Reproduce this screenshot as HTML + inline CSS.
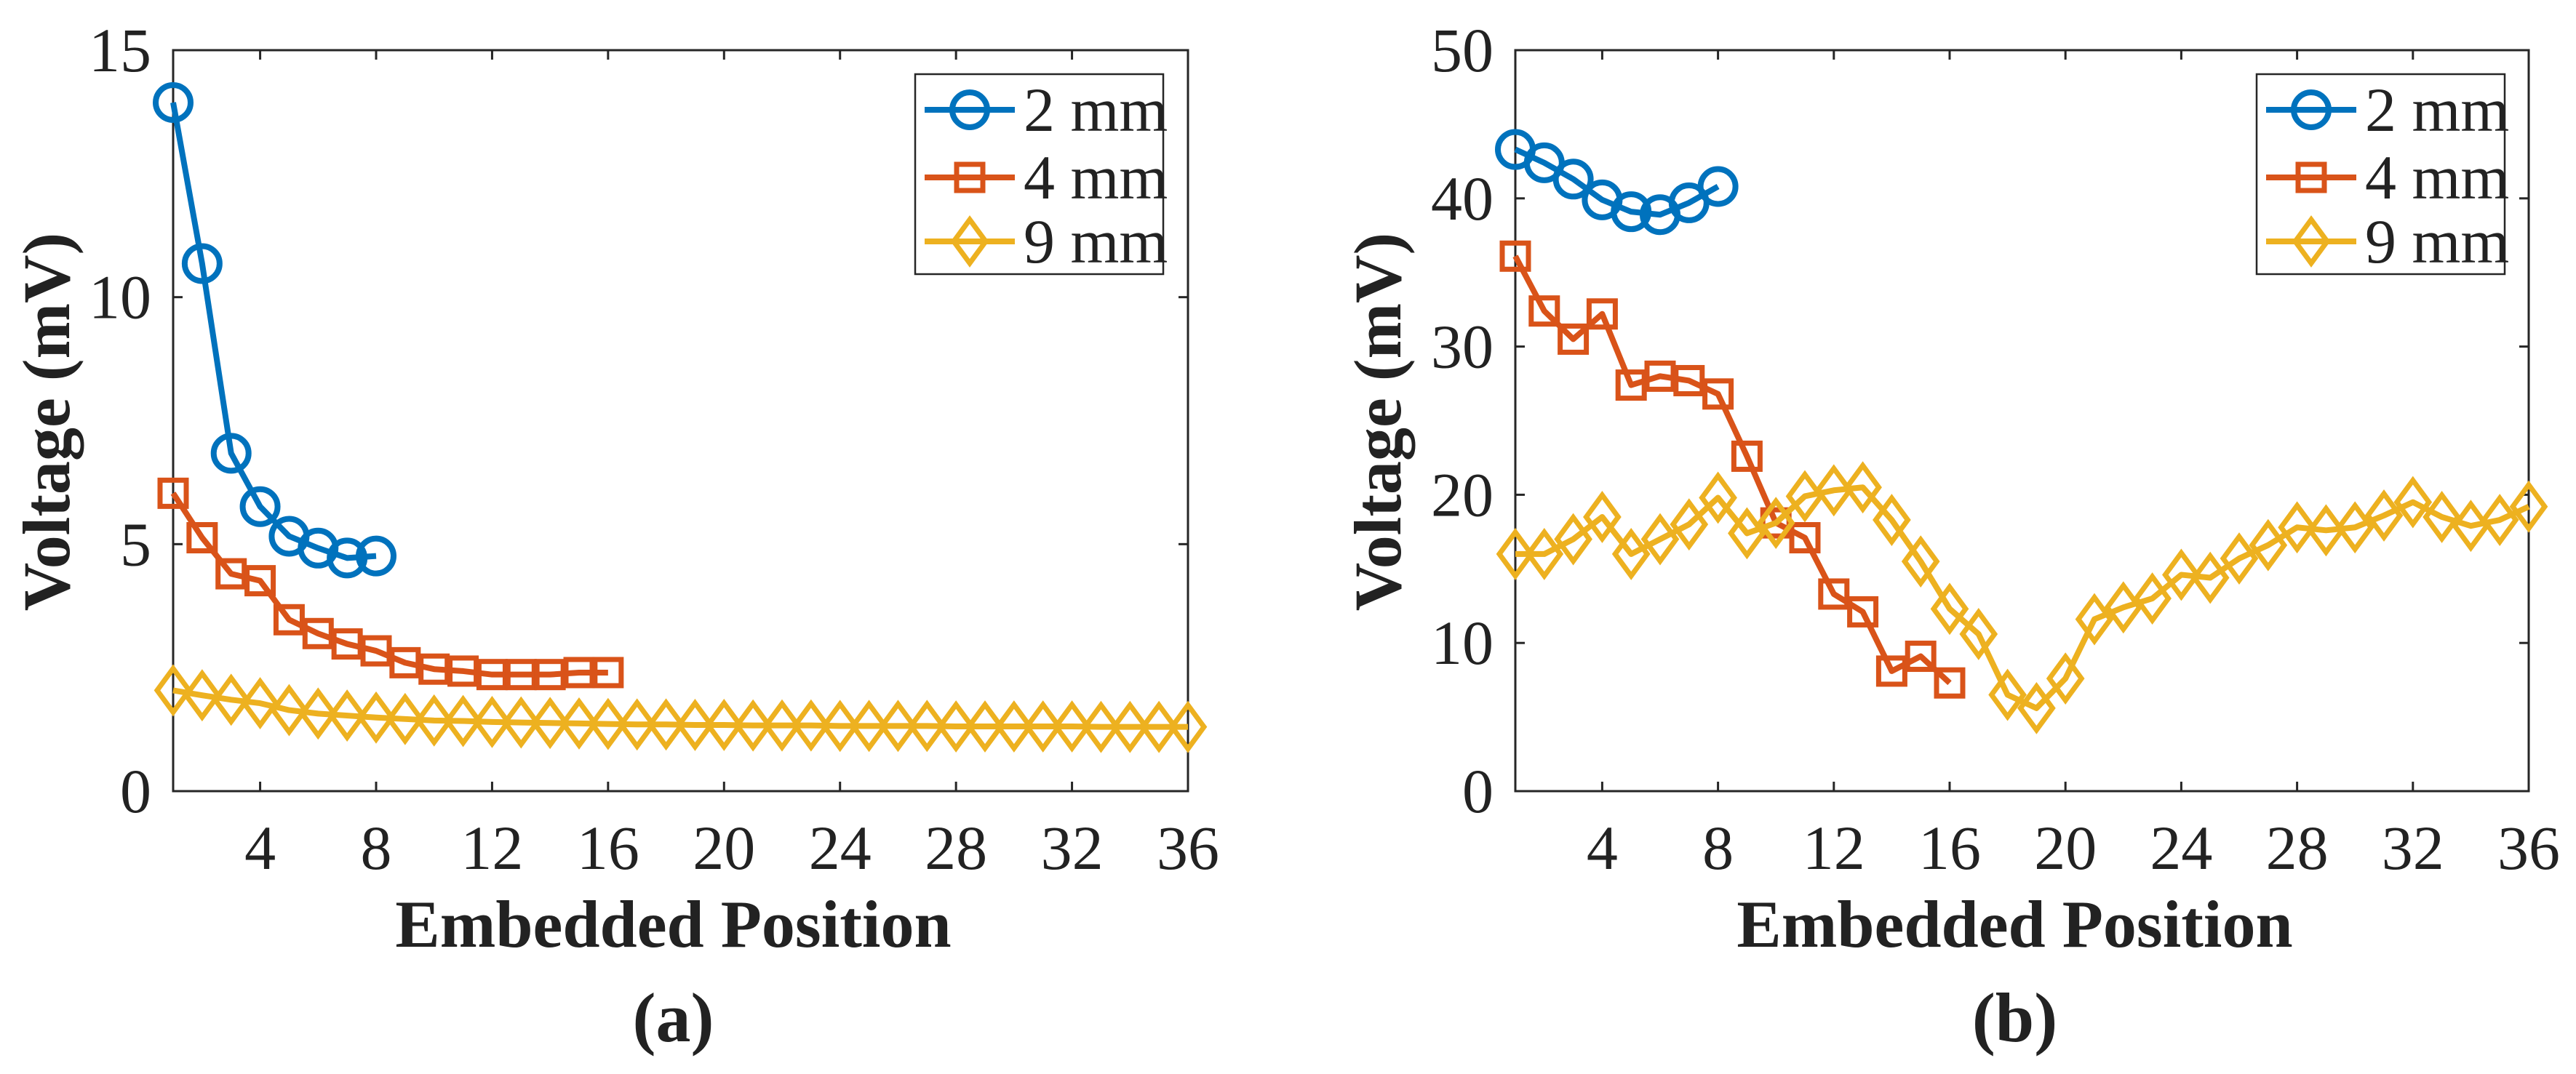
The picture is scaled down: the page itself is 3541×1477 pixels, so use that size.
<!DOCTYPE html>
<html><head><meta charset="utf-8"><style>
html,body{margin:0;padding:0;background:#fff;}
svg{display:block;}
text{font-family:"Liberation Serif",serif;fill:#222;}
</style></head><body>
<svg id="fig" width="3541" height="1477" viewBox="0 0 3541 1477" xmlns="http://www.w3.org/2000/svg"></svg>
<script>
// ---- data ----
const xTicks = [4,8,12,16,20,24,28,32,36];
const yTicksA = [0,5,10,15];
const yTicksB = [0,10,20,30,40,50];
const seriesNames = ["2 mm","4 mm","9 mm"];
const a2mm = [13.94,10.68,6.84,5.76,5.16,4.92,4.72,4.76];
const a4mm = [6.03,5.13,4.40,4.26,3.47,3.19,2.98,2.84,2.60,2.47,2.43,2.36,2.36,2.36,2.40,2.40];
const a9mm = [2.04,1.94,1.85,1.78,1.64,1.57,1.53,1.49,1.46,1.43,1.42,1.40,1.39,1.38,1.37,1.36,1.35,1.35,1.34,1.34,1.33,1.33,1.33,1.32,1.32,1.32,1.32,1.31,1.31,1.31,1.31,1.31,1.30,1.30,1.30,1.30];
const b2mm = [43.3,42.4,41.3,39.9,39.1,38.9,39.7,40.8];
const b4mm = [36.1,32.4,30.5,32.2,27.4,28.0,27.7,26.8,22.6,18.1,17.1,13.3,12.1,8.1,9.1,7.3];
const b9mm = [16.0,16.0,17.0,18.5,16.0,17.0,18.0,19.8,17.4,18.1,19.9,20.3,20.5,18.3,15.5,12.3,10.6,6.5,5.6,7.6,11.6,12.4,13.0,14.6,14.4,15.7,16.6,17.8,17.6,17.8,18.6,19.5,18.5,17.9,18.3,19.2];

const NS="http://www.w3.org/2000/svg";
const svg=document.getElementById('fig');
const colors=["#0072BD","#D95319","#EDB120"];
const markers=["circle","square","diamond"];
function el(tag,attrs,parent){const e=document.createElementNS(NS,tag);for(const k in attrs)e.setAttribute(k,attrs[k]);(parent||svg).appendChild(e);return e;}

function marker(g,type,cx,cy,color){
  let m;
  if(type==="circle") m=el('circle',{cx:cx,cy:cy,r:24,fill:'none',stroke:color,'stroke-width':8},g);
  else if(type==="square") m=el('rect',{x:cx-18,y:cy-18,width:36,height:36,fill:'none',stroke:color,'stroke-width':7},g);
  else m=el('polygon',{points:`${cx},${cy-30} ${cx+22},${cy} ${cx},${cy+30} ${cx-22},${cy}`,fill:'none',stroke:color,'stroke-width':7},g);
  return m;
}

function panel(id,L,R,T,B,ymax,yTicks,data,label,labelX,legendL){
  const g=el('g',{});
  
  
  const xs=v=>L+(v-1)*(R-L)/35;
  const ys=v=>B-v*(B-T)/ymax;
  const box=el('rect',{x:L,y:T,width:R-L,height:B-T,fill:'none',stroke:'#262626','stroke-width':3},g);
  
  
  xTicks.forEach(t=>{
    const x=xs(t);
    el('line',{x1:x,y1:B,x2:x,y2:B-13,stroke:'#262626','stroke-width':3},g);
    el('line',{x1:x,y1:T,x2:x,y2:T+13,stroke:'#262626','stroke-width':3},g);
    const tx=el('text',{x:x,y:1195,'font-size':86,'text-anchor':'middle'},g);
    tx.textContent=t;
    
    
  });
  yTicks.forEach(t=>{
    const y=ys(t);
    el('line',{x1:L,y1:y,x2:L+13,y2:y,stroke:'#262626','stroke-width':3},g);
    el('line',{x1:R,y1:y,x2:R-13,y2:y,stroke:'#262626','stroke-width':3},g);
    const tx=el('text',{x:L-30,y:y+29,'font-size':86,'text-anchor':'end'},g);
    tx.textContent=t;
    
    
  });
  data.forEach((arr,si)=>{
    const sg=el('g',{},g);
    
    
    const pts=arr.map((v,i)=>xs(i+1)+','+ys(v)).join(' ');
    el('polyline',{points:pts,fill:'none',stroke:colors[si],'stroke-width':8,'stroke-linejoin':'round'},sg);
    arr.forEach((v,i)=>{
      const m=marker(sg,markers[si],xs(i+1),ys(v),colors[si]);
      
      
    });
  });
  const yl=el('text',{x:0,y:0,'font-size':92,'font-weight':'bold','text-anchor':'middle',transform:`translate(${labelX},580) rotate(-90)`},g);
  yl.textContent='Voltage (mV)';
  
  
  const cx=(L+R)/2;
  const xl=el('text',{x:cx-10,y:1302,'font-size':92,'font-weight':'bold','text-anchor':'middle'},g);
  xl.textContent='Embedded Position';
  
  
  const cap=el('text',{x:cx-10,y:1432,'font-size':96,'font-weight':'bold','text-anchor':'middle'},g);
  cap.textContent=label;
  
  
  const lg=el('g',{},g);
  
  
  el('rect',{x:legendL,y:102,width:341,height:275,fill:'#fff',stroke:'#262626','stroke-width':2.5},lg);
  [151,244,332].forEach((y,si)=>{
    const e=el('g',{},lg);
    
    
    el('line',{x1:legendL+13,y1:y,x2:legendL+137,y2:y,stroke:colors[si],'stroke-width':8},e);
    marker(e,markers[si],legendL+75,y,colors[si]);
    const t=el('text',{x:legendL+149,y:y+29,'font-size':86},e);
    t.textContent=seriesNames[si];
  });
}
panel('panel-a',238,1633,69,1088,15,yTicksA,[a2mm,a4mm,a9mm],'(a)',95,1258);
panel('panel-b',2083,3476,69,1088,50,yTicksB,[b2mm,b4mm,b9mm],'(b)',1925,3102);
</script>
</body></html>
